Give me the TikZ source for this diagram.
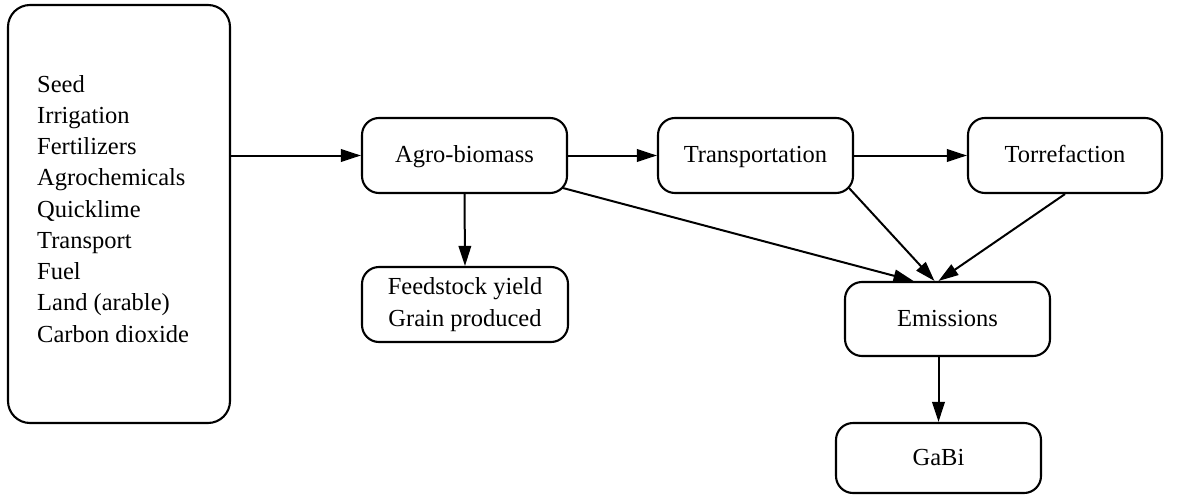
\documentclass[tikz,border=0pt]{standalone}
\usepackage{fontspec}
\setmainfont{Liberation Serif}
\usetikzlibrary{arrows.meta,calc}
\begin{document}
\begin{tikzpicture}[x=1pt,y=1pt,
  txt/.style={font=\fontsize{24.5}{31.25}\selectfont},
  box/.style={draw, line width=2.1pt, rounded corners=17pt, inner sep=0pt,
    txt, align=center},
  one/.style={text height=17.5pt, text depth=3.5pt},
  flow/.style={line width=2pt, -{Triangle[length=20pt,width=12.5pt]}}]
\useasboundingbox (0,0) rectangle (1188,-495);

% input list
\node[box, rounded corners=22pt, minimum width=222pt, minimum height=418pt] (inputs) at (119,-214) {};
\node[txt, anchor=north west, inner sep=0pt, align=left] (list) at (37,-75)
  {Seed\\Irrigation\\Fertilizers\\Agrochemicals\\Quicklime\\Transport\\Fuel\\Land (arable)\\Carbon dioxide};

% process boxes
\node[box, one, minimum width=205pt, minimum height=75pt] (agro)  at (464.5,-155.5) {Agro-biomass};
\node[box, one, minimum width=195pt, minimum height=75pt] (trans) at (755.5,-155.5) {Transportation};
\node[box, one, minimum width=194pt, minimum height=75pt] (torr)  at (1065,-155.5)  {Torrefaction};
\node[box, minimum width=206pt, minimum height=75pt] (feed)  at (465,-304.5)   {Feedstock yield\\Grain produced};
\node[box, one, minimum width=205pt, minimum height=74pt] (em)    at (947.5,-319)   {Emissions};
\node[box, one, minimum width=205pt, minimum height=70pt] (gabi)  at (938.5,-458)   {GaBi};

% connectors
\draw[flow] (inputs.east |- agro.west) -- (agro.west);
\draw[flow] (agro.east) -- (trans.west);
\draw[flow] (trans.east) -- (torr.west);
\draw[flow] (agro.south) -- (feed.north);
\draw[flow] ($(agro.south east)+(-5,6)$) -- ($(em.north)+(-34,0)$);
\draw[flow] ($(trans.south east)+(-5,6)$) -- ($(em.north)+(-13,0)$);
\draw[flow] (torr.south) -- ($(em.north)+(-9,0)$);
\draw[flow] (em.south -| gabi.north) -- (gabi.north);
\end{tikzpicture}
\end{document}
